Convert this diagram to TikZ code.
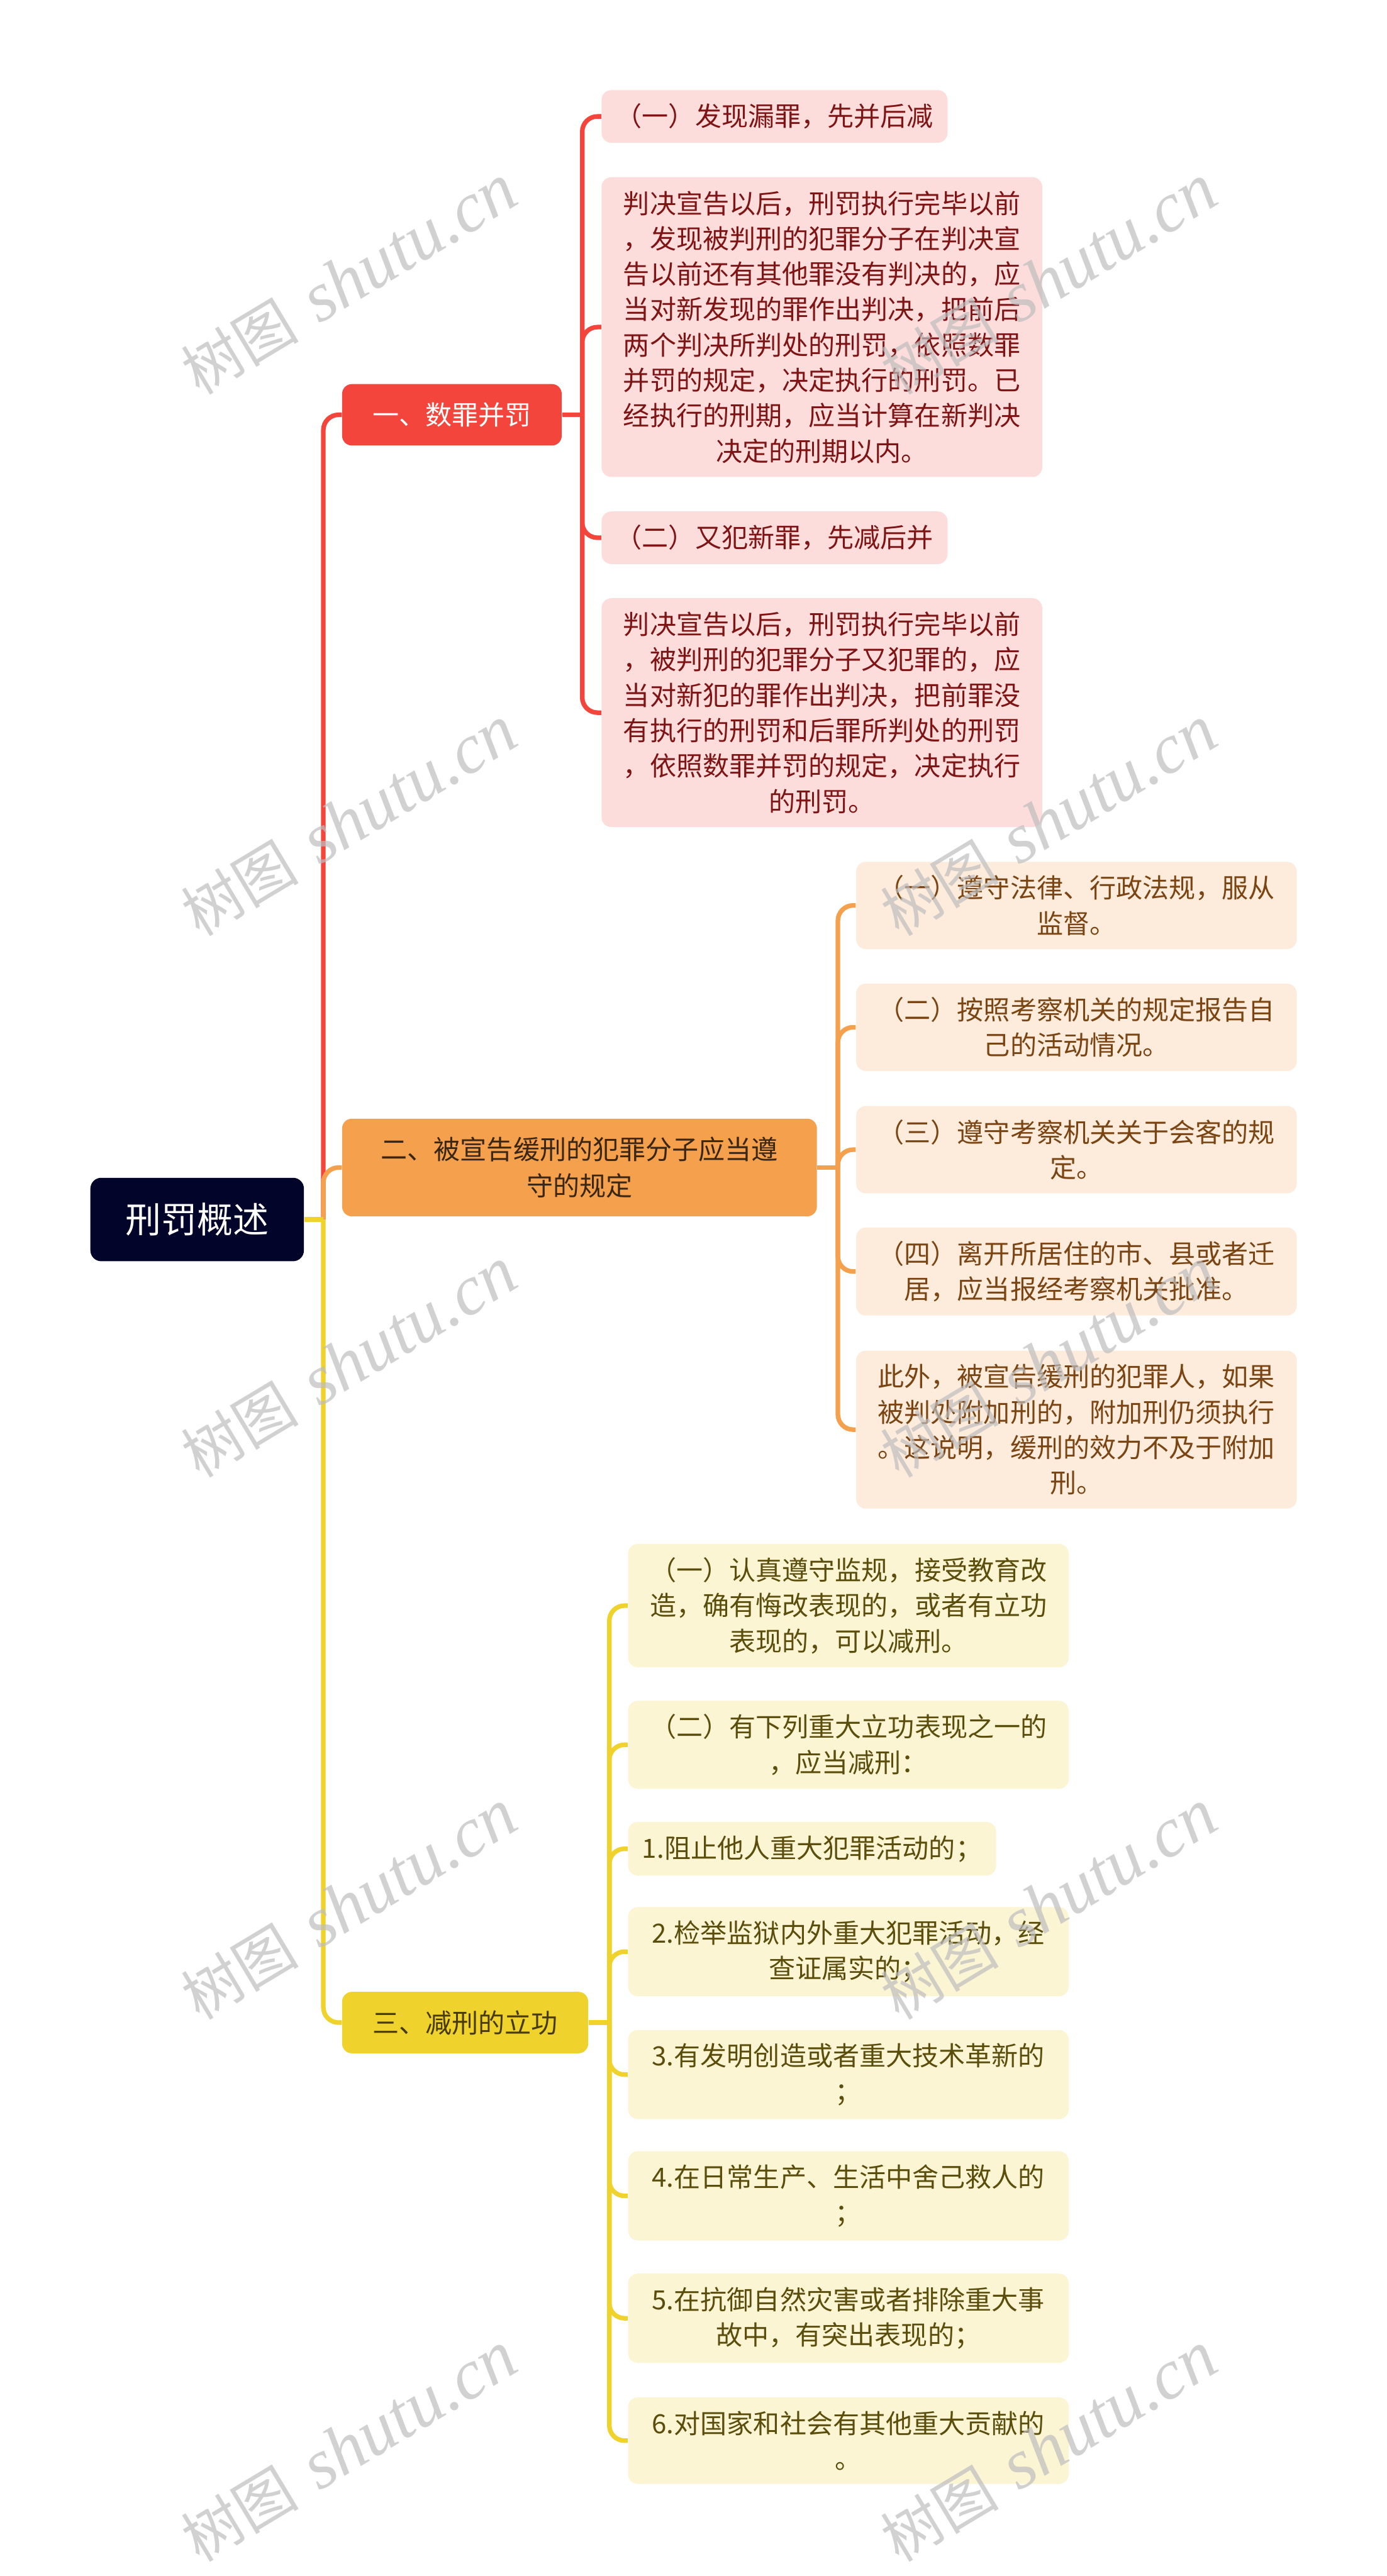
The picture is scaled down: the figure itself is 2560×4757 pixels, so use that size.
\documentclass[tikz,border=0pt]{standalone}
\usepackage{fontspec}
\setmainfont{Noto Sans CJK SC}
\newfontfamily\cjk{Noto Sans CJK SC}
\newfontfamily\wmfont{Liberation Serif}
\definecolor{rootc}{HTML}{03042A}
\definecolor{redc}{HTML}{F4453C}
\definecolor{redl}{HTML}{FDDCDC}
\definecolor{redt}{HTML}{7E1414}
\definecolor{orgc}{HTML}{F4A04C}
\definecolor{orgl}{HTML}{FDEBDC}
\definecolor{orgt}{HTML}{7A4513}
\definecolor{orgh}{HTML}{3A2614}
\definecolor{yelc}{HTML}{EFD22B}
\definecolor{yell}{HTML}{FCF5D4}
\definecolor{yelt}{HTML}{5B4D0B}
\definecolor{yelh}{HTML}{473A0C}
\definecolor{wmgray}{HTML}{BEBEBE}
\begin{document}
\begin{tikzpicture}[x=0.01cm,y=-0.01cm,
	box/.style={rounded corners=0.18cm,align=center,anchor=west,
		inner xsep=0.39cm,inner ysep=0.25cm,
		font=\fontsize{13.9pt}{18.6pt}\selectfont},
	wide/.style={box,minimum width=8.13cm},
	short/.style={box,inner xsep=0.26cm},
	main/.style={box,inner xsep=0.56cm,inner ysep=0.34cm,font=\fontsize{13.9pt}{19pt}\selectfont},
	ast/.style={line width=2.4pt,rounded corners=0.28cm}]
\path[use as bounding box,fill=white] (0,0) rectangle (2560,4757);
% Wurzel und Hauptaeste
\node[fill=rootc,text=white,rounded corners=0.2cm,minimum width=3.94cm,minimum height=1.54cm,
	font=\fontsize{18.8pt}{22pt}\selectfont] (root) at (364,2252) {刑罚概述};
\node[main,fill=redc,text=white] (n1) at (631,766) {一、数罪并罚};
\node[main,fill=orgc,text=orgh,minimum width=8.76cm] (n2) at (631,2156) {二、被宣告缓刑的犯罪分子应当遵\\守的规定};
\node[main,fill=yelc,text=yelh] (n3) at (631,3735) {三、减刑的立功};
% erster Ast
\node[short,fill=redl,text=redt] (a1) at (1110,215) {（一）发现漏罪，先并后减};
\node[wide,fill=redl,text=redt] (a2) at (1110,604) {判决宣告以后，刑罚执行完毕以前\\，发现被判刑的犯罪分子在判决宣\\告以前还有其他罪没有判决的，应\\当对新发现的罪作出判决，把前后\\两个判决所判处的刑罚，依照数罪\\并罚的规定，决定执行的刑罚。已\\经执行的刑期，应当计算在新判决\\决定的刑期以内。};
\node[short,fill=redl,text=redt] (a3) at (1110,993) {（二）又犯新罪，先减后并};
\node[wide,fill=redl,text=redt] (a4) at (1110,1316) {判决宣告以后，刑罚执行完毕以前\\，被判刑的犯罪分子又犯罪的，应\\当对新犯的罪作出判决，把前罪没\\有执行的刑罚和后罪所判处的刑罚\\，依照数罪并罚的规定，决定执行\\的刑罚。};
% zweiter Ast
\node[wide,fill=orgl,text=orgt] (b1) at (1580,1672) {（一）遵守法律、行政法规，服从\\监督。};
\node[wide,fill=orgl,text=orgt] (b2) at (1580,1897) {（二）按照考察机关的规定报告自\\己的活动情况。};
\node[wide,fill=orgl,text=orgt] (b3) at (1580,2123) {（三）遵守考察机关关于会客的规\\定。};
\node[wide,fill=orgl,text=orgt] (b4) at (1580,2348) {（四）离开所居住的市、县或者迁\\居，应当报经考察机关批准。};
\node[wide,fill=orgl,text=orgt] (b5) at (1580,2640) {此外，被宣告缓刑的犯罪人，如果\\被判处附加刑的，附加刑仍须执行\\。这说明，缓刑的效力不及于附加\\刑。};
% dritter Ast
\node[wide,fill=yell,text=yelt] (c1) at (1159,2965) {（一）认真遵守监规，接受教育改\\造，确有悔改表现的，或者有立功\\表现的，可以减刑。};
\node[wide,fill=yell,text=yelt] (c2) at (1159,3222) {（二）有下列重大立功表现之一的\\，应当减刑：};
\node[short,fill=yell,text=yelt] (c3) at (1159,3414) {1.阻止他人重大犯罪活动的；};
\node[wide,fill=yell,text=yelt] (c4) at (1159,3604) {2.检举监狱内外重大犯罪活动，经\\查证属实的；};
\node[wide,fill=yell,text=yelt] (c5) at (1159,3831) {3.有发明创造或者重大技术革新的\\；};
\node[wide,fill=yell,text=yelt] (c6) at (1159,4055) {4.在日常生产、生活中舍己救人的\\；};
\node[wide,fill=yell,text=yelt] (c7) at (1159,4281) {5.在抗御自然灾害或者排除重大事\\故中，有突出表现的；};
\node[wide,fill=yell,text=yelt] (c8) at (1159,4507) {6.对国家和社会有其他重大贡献的\\。};
% Verbindungen
\coordinate (tj) at (597,2252);
\coordinate (rj) at (1075,766);
\coordinate (oj) at (1547,2156);
\coordinate (yj) at (1125,3735);
\draw[ast,redc] (tj) |- (n1.west);
\draw[ast,orgc] (tj) |- (n2.west);
\draw[ast,yelc] (tj) |- (n3.west);
\draw[ast,yelc] (root.east) -- (tj);
\draw[ast,redc] (n1.east) -- (rj);
\foreach \k in {a1,a2,a3,a4}
	\draw[ast,redc] (rj) |- (\k.west);
\draw[ast,orgc] (n2.east) -- (oj);
\foreach \k in {b1,b2,b3,b4,b5}
	\draw[ast,orgc] (oj) |- (\k.west);
\draw[ast,yelc] (n3.east) -- (yj);
\foreach \k in {c1,c2,c3,c4,c5,c6,c7,c8}
	\draw[ast,yelc] (yj) |- (\k.west);
% Wasserzeichen
\foreach \x in {645,1937}
	\foreach \y in {517,1517,2517,3518,4519}
		\node[text=wmgray,opacity=0.7,rotate=31,inner sep=0pt] (wm\x\y) at (\x,\y)
			{{\cjk\fontsize{31pt}{31pt}\selectfont 树图}{\wmfont\itshape\fontsize{37pt}{37pt}\selectfont\hspace{0.3em}shutu.cn}};
\end{tikzpicture}
\end{document}
